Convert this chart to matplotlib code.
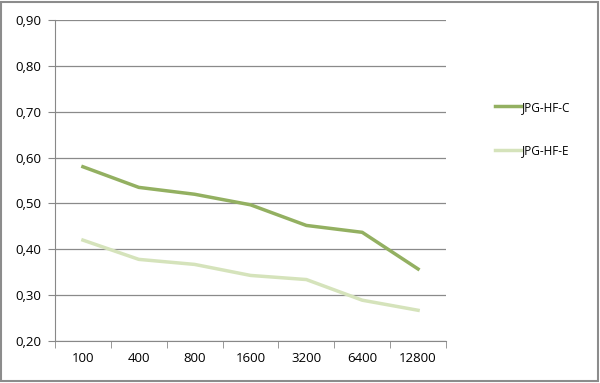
import matplotlib
matplotlib.use("Agg")
import matplotlib.pyplot as plt
from matplotlib.patches import Rectangle

categories = ["100", "400", "800", "1600", "3200", "6400", "12800"]
series_c = [0.580, 0.535, 0.520, 0.497, 0.452, 0.437, 0.357]
series_e = [0.420, 0.378, 0.367, 0.343, 0.334, 0.289, 0.267]
yticks = [0.20, 0.30, 0.40, 0.50, 0.60, 0.70, 0.80, 0.90]

plt.rcParams['font.family'] = ['Open Sans', 'DejaVu Sans']

fig = plt.figure(figsize=(6.0, 3.83), dpi=100)
fig.patches.append(Rectangle((0.002, 0.004), 0.995, 0.992, transform=fig.transFigure,
                             fill=False, edgecolor='#8c8c8c', linewidth=1.5))
ax = fig.add_axes([55/600, 1 - 341/383, (446-55)/600, (341-20)/383])

x = list(range(len(categories)))
l1, = ax.plot(x, series_c, color='#93b061', linewidth=2.5, label='JPG-HF-C')
l2, = ax.plot(x, series_e, color='#d5e3bb', linewidth=2.5, label='JPG-HF-E')

ax.set_xlim(-0.5, len(categories) - 0.5)
ax.set_ylim(0.20, 0.90)
ax.set_yticks(yticks)
ax.set_yticklabels([f"{v:.2f}".replace('.', ',') for v in yticks], fontsize=9.5)
ax.set_xticks(x)
ax.set_xticklabels(categories, fontsize=9.5)
ax.set_xticks([i - 0.5 for i in range(len(categories) + 1)], minor=True)
ax.tick_params(axis='x', which='major', length=0, pad=8)
ax.tick_params(axis='x', which='minor', length=5, color='#888888', direction='out')
ax.tick_params(axis='y', length=5, color='#888888', direction='out', pad=5)
ax.grid(axis='y', color='#8a8a8a', linewidth=0.9)
ax.set_axisbelow(True)
for s in ['top', 'right']:
    ax.spines[s].set_visible(False)
for s in ['left', 'bottom']:
    ax.spines[s].set_color('#888888')

fig.legend(handles=[l1, l2], loc='upper left', bbox_to_anchor=(484/600, 1 - 90/383),
           frameon=False, fontsize=8.5, handlelength=2.2, handletextpad=0.1,
           labelspacing=2.55)

fig.savefig("out.png", dpi=100)
